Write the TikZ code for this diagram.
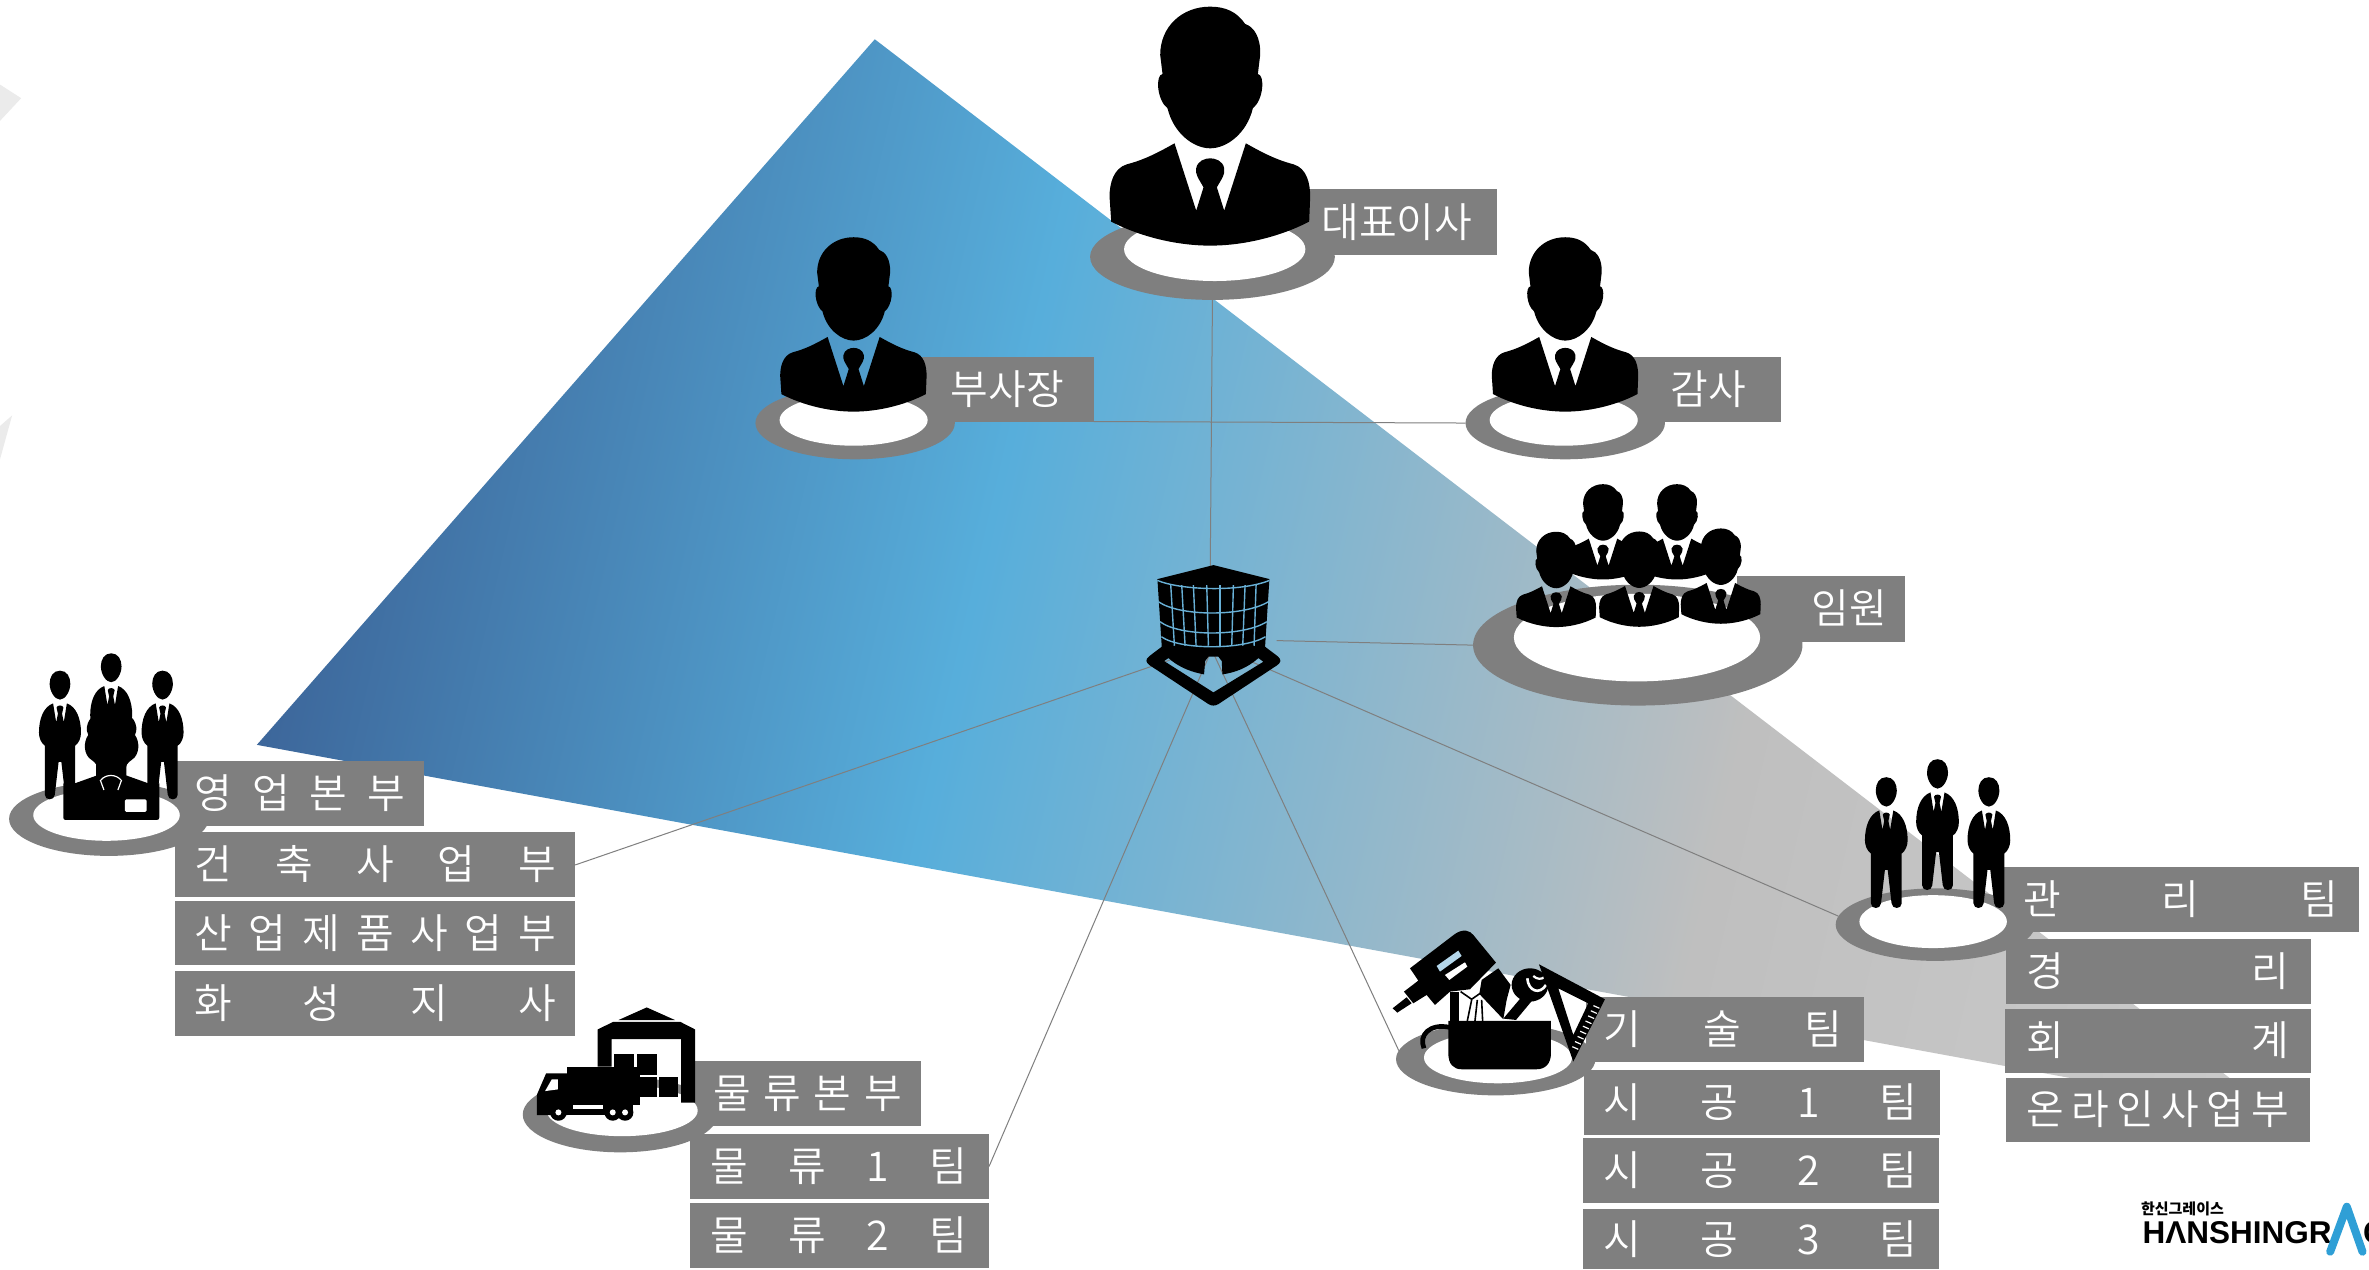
\documentclass[tikz,border=0pt]{standalone}
\usepackage{fontspec}
\usetikzlibrary{shapes.geometric,calc}
\IfFontExistsTF{Noto Sans CJK KR DemiLight}{\newfontfamily\krfont{Noto Sans CJK KR DemiLight}}{\newfontfamily\krfont{Noto Sans CJK KR Light}}
\newfontfamily\krlogo{Noto Sans CJK KR}
\newfontfamily\logofont{Liberation Sans}
\definecolor{boxgray}{HTML}{7F7F7F}
\definecolor{faint}{HTML}{EBEBEB}
\definecolor{cA}{HTML}{3D679B}
\definecolor{cB}{HTML}{57AEDB}
\definecolor{cC}{HTML}{BFBFBF}
\definecolor{cD}{HTML}{CACACA}
\definecolor{bldbg}{HTML}{68B0D6}
\definecolor{logoblue}{HTML}{2F9FD6}
\pgfdeclarehorizontalshading{trishade}{100bp}{color(0bp)=(cA); color(34.3bp)=(cA); color(45.3bp)=(cB); color(58.3bp)=(cC); color(67.5bp)=(cD); color(100bp)=(cD)}
\tikzset{
  lab/.style={fill=boxgray,text=white,inner sep=0pt,outer sep=0pt,anchor=north west,align=left,
    font=\krfont\fontsize{41pt}{44pt}\selectfont,text height=34pt,text depth=4pt},
  ringo/.style={ellipse,fill=boxgray,inner sep=0pt,outer sep=0pt},
  ringi/.style={ellipse,fill=white,inner sep=0pt,outer sep=0pt},
  conn/.style={draw=boxgray,line width=1pt},
  bust/.pic={
    \fill[black] (0,20) .. controls (-85,20) and (-150,80) .. (-150,165) -- (-143,222)
      .. controls (-165,225) and (-160,300) .. (-128,325)
      .. controls (-110,400) and (-50,445) .. (0,445)
      .. controls (50,445) and (110,400) .. (128,325)
      .. controls (160,300) and (165,225) .. (143,222) -- (150,165)
      .. controls (152,110) and (130,80) .. (105,72)
      .. controls (80,35) and (45,20) .. (0,20) -- cycle;
    \fill[black] (-107,430) -- (-42,632) -- (-20,562)
      .. controls (-35,535) and (-45,525) .. (-42,505)
      .. controls (-38,482) and (-15,475) .. (0,475)
      .. controls (15,475) and (38,482) .. (42,505)
      .. controls (45,525) and (35,535) .. (20,562) -- (42,632) -- (107,430)
      .. controls (160,460) and (200,480) .. (250,493)
      .. controls (290,505) and (300,550) .. (300,590) -- (297,665)
      .. controls (200,715) and (90,737) .. (0,737)
      .. controls (-90,737) and (-200,715) .. (-297,665) -- (-302,590)
      .. controls (-302,550) and (-290,505) .. (-250,493)
      .. controls (-200,480) and (-160,460) .. (-107,430) -- cycle;
  },
  standing/.pic={
    \fill[black] (0,0) .. controls (-20,0) and (-30,18) .. (-30,38)
      .. controls (-30,60) and (-15,84) .. (0,84)
      .. controls (15,84) and (30,60) .. (30,38)
      .. controls (30,18) and (20,0) .. (0,0) -- cycle;
    \fill[black] (-20,95) -- (-11,150) -- (-6,125) -- (-10,107)
      .. controls (-8,99) and (8,99) .. (10,107) -- (6,125) -- (11,150) -- (20,95)
      .. controls (48,105) and (61,140) .. (61,180)
      .. controls (61,195) and (55,210) .. (44,218) -- (44,360)
      .. controls (44,378) and (16,378) .. (15,360) -- (4,265) -- (-4,265) -- (-15,360)
      .. controls (-16,378) and (-44,378) .. (-44,360) -- (-44,218)
      .. controls (-55,210) and (-61,195) .. (-61,180)
      .. controls (-61,140) and (-48,105) .. (-20,95) -- cycle;
  },
}
% name x1 y1 x2 y2 textleft textwidth text
\newcommand\lab[8]{%
  \pgfmathsetlengthmacro\bw{(#4-#2)*1.5108}%
  \pgfmathsetlengthmacro\bh{(#5-#3)*1.5108}%
  \pgfmathsetlengthmacro\pd{(#6-#2)*1.5108}%
  \pgfmathsetlengthmacro\tw{#7*1.5108}%
  \node[lab,text width=\bw,minimum height=\bh] (#1) at (#2,#3) {\hspace*{\pd}\makebox[\tw][s]{#8}};}
% name cx cy rx ry icx icy irx iry
\newcommand\ringpair[9]{%
  \pgfmathsetlengthmacro\ow{2*#4*1.5108}%
  \pgfmathsetlengthmacro\oh{2*#5*1.5108}%
  \pgfmathsetlengthmacro\iw{2*#8*1.5108}%
  \pgfmathsetlengthmacro\ih{2*#9*1.5108}%
  \node[ringo,minimum width=\ow,minimum height=\oh] (#1o) at (#2,#3) {};
  \node[ringi,minimum width=\iw,minimum height=\ih] (#1i) at (#6,#7) {};}
\newcommand\gp{\hspace{\fill}}
\begin{document}
\begin{tikzpicture}[x=1.5108pt,y=-1.5108pt]
\useasboundingbox (0,0) rectangle (1568,840);
\fill[white] (0,0) rectangle (1568,840);
\clip (0,0) rectangle (1568,840);
% faint shapes at the left edge
\fill[faint] (0,56) -- (14,65) -- (0,80) -- cycle;
\fill[faint] (0,282) -- (8,275) -- (0,304) -- cycle;
% big triangle
\begin{scope}
  \clip (579,26) -- (170,493) -- (1509,739) -- cycle;
  \shade[shading=trishade,shading angle=-13] (-160,-620) rectangle (1840,1380);
\end{scope}
% label boxes
\lab{ceobox}{860}{125}{991}{169}{874.7}{108.6}{대표이사}
\lab{vpbox}{610}{236}{724}{279}{629.3}{81.5}{부사장}
\lab{audbox}{1080}{236}{1179}{279}{1105.8}{54.3}{감사}
\lab{execbox}{1150}{381}{1260.6}{425}{1199.3}{54.3}{임원}
\lab{sales}{115}{503.5}{280.7}{546.5}{129}{139}{영\gp 업\gp 본\gp 부}
\lab{arch}{115.8}{551}{380.7}{594}{129}{239}{건\gp 축\gp 사\gp 업\gp 부}
\lab{indu}{115.8}{596.4}{380.7}{639}{129}{239}{산\gp 업\gp 제\gp 품\gp 사\gp 업\gp 부}
\lab{hwa}{115.8}{642.5}{380.7}{685.5}{129}{239}{화\gp 성\gp 지\gp 사}
\lab{logihq}{459}{702.3}{609.6}{745}{472}{125}{물\gp 류\gp 본\gp 부}
\lab{logia}{456.7}{750.6}{654.6}{793.6}{470}{170}{물\gp 류\gp 1\gp 팀}
\lab{logib}{456.7}{796.3}{654.6}{839.3}{470}{170}{물\gp 류\gp 2\gp 팀}
\lab{tech}{1050}{659.9}{1233.7}{702.7}{1061}{158}{기\gp 술\gp 팀}
\lab{cona}{1048.6}{708.2}{1284}{751.2}{1061}{208}{시\gp 공\gp 1\gp 팀}
\lab{conb}{1047.9}{753.2}{1283.2}{796}{1061}{208}{시\gp 공\gp 2\gp 팀}
\lab{conc}{1047.9}{800.2}{1283.2}{840}{1061}{208}{시\gp 공\gp 3\gp 팀}
\lab{mgmt}{1320}{573.9}{1561.2}{616.8}{1339}{208.5}{관\gp 리\gp 팀}
\lab{acct}{1327.8}{621.7}{1529.7}{664.7}{1341}{174.5}{경\gp 리}
\lab{fina}{1327}{667.6}{1529.7}{710.3}{1341}{174.5}{회\gp 계}
\lab{online}{1327.8}{713.2}{1528.8}{756.1}{1341}{174.5}{온\gp 라\gp 인\gp 사\gp 업\gp 부}
% rings
\ringpair{ceo}{802.5}{170}{81}{28.5}{804}{165}{60}{21}
\ringpair{vp}{566}{280}{66}{24}{565}{278}{49}{17}
\ringpair{aud}{1036}{280}{66}{24}{1035}{278}{49}{17}
\ringpair{exec}{1084}{427}{109}{40}{1083.5}{422}{81.5}{29}
\ringpair{salesr}{72}{542}{66}{24.5}{70.5}{539.5}{48.5}{17}
\ringpair{logir}{410.5}{737.7}{64.5}{25}{411.8}{735}{50}{17}
\ringpair{techr}{990}{701}{66}{24}{991.5}{700}{49}{17}
\ringpair{mgmtr}{1281}{612}{66}{24}{1279.5}{610}{48.8}{17.5}
% connectors
\coordinate (bld) at (802,430);
\coordinate (bldm) at (803,427);
\coordinate (bldr) at (845,424);
\coordinate (bldtop) at (801,380);
\draw[conn] (ceoo.south) -- (bldtop);
\draw[conn] (vpbox.south east) -- (audo.west);
\draw[conn] (bldr) -- (execo.west);
\draw[conn] (bldm) -- (mgmtro.175);
\draw[conn] (bld) -- (techro.175);
\draw[conn] (bld) -- (logia.east);
\draw[conn] (bldm) -- (arch.east);
% executives
\pic[scale=.2206] at (801,0) {bust};
\pic[scale=.161] at (565,153.8) {bust};
\pic[scale=.161] at (1036,153.8) {bust};
\pic[scale=.088] at (1061,318.7) {bust};
\pic[scale=.088] at (1110,318.7) {bust};
\pic[scale=.088] at (1030,350.2) {bust};
\pic[scale=.088] at (1085,350) {bust};
\pic[scale=.088] at (1139,348) {bust};
% building
\begin{scope}[shift={(754.6,367.4)},scale=.2206]
  \fill[black,even odd rule] (220,30) -- (52,72) -- (65,275) -- (28,303)
      .. controls (14,314) and (18,322) .. (28,330) -- (205,447)
      .. controls (214,453) and (226,453) .. (235,447) -- (412,330)
      .. controls (422,322) and (426,314) .. (412,303) -- (375,275) -- (388,72) -- cycle
    (72,318) -- (85,309) .. controls (120,340) and (160,352) .. (192,358) -- (195,318) -- (205,305) -- (235,305) -- (245,318) -- (247,358)
      .. controls (285,352) and (320,340) .. (355,309) -- (370,320) -- (220,412) -- cycle;
  \begin{scope}[draw=bldbg,line width=1.4pt]
    \draw (52,76) .. controls (120,105) and (300,112) .. (388,76);
    \draw (55,140) .. controls (120,185) and (310,185) .. (385,140);
    \draw (60,200) .. controls (120,245) and (310,245) .. (380,200);
    \draw (64,245) .. controls (120,285) and (310,285) .. (376,245);
    \foreach \xa/\xb in {92/103,125/135,160/168,200/205,240/240,280/275,315/308,348/342}
      \draw (\xa,90) -- (\xb,272);
  \end{scope}
\end{scope}
% management trio
\pic[scale=.2318] at (1248.5,514.4) {standing};
\pic[scale=.2318] at (1282.4,502.5) {standing};
\pic[scale=.2318] at (1316.4,514.4) {standing};
% sales trio and desk
\pic[scale=.228] at (39.7,443.9) {standing};
\pic[scale=.228] at (73.6,432.4) {standing};
\pic[scale=.228] at (107.6,443.9) {standing};
\begin{scope}[shift={(13.2,423.6)},scale=.2206]
  \fill[black] (212,235) .. controls (198,255) and (198,270) .. (205,285)
    .. controls (190,305) and (190,345) .. (215,360)
    .. controls (225,368) and (235,372) .. (235,405) -- (165,430) -- (130,430) -- (130,533)
    .. controls (130,538) and (133,540) .. (138,540) -- (410,540)
    .. controls (415,540) and (418,538) .. (418,533) -- (418,430) -- (385,430) -- (315,405)
    .. controls (315,372) and (325,368) .. (335,360)
    .. controls (360,345) and (360,305) .. (345,285)
    .. controls (352,270) and (352,255) .. (338,235) -- cycle;
  \fill[white,rounded corners=1.5pt] (315,478) rectangle (380,516);
  \draw[white,line width=1.2pt] (241,420) -- (252,450);
  \draw[white,line width=1.2pt] (305,420) -- (294,450);
  \draw[white,line width=1.2pt] (243,420) .. controls (258,402) and (288,402) .. (303,420);
\end{scope}
% warehouse and truck
\begin{scope}[shift={(331,648.7)},scale=.2206]
  \fill[black] (355,120) -- (440,82) -- (525,120) -- cycle;
  \fill[black] (293,148) -- (340,125) -- (540,125) -- (585,148) -- (585,368) -- (543,368) -- (543,177) -- (335,177) -- (335,260) -- (293,260) -- cycle;
  \fill[black] (343,222) rectangle (403,265);
  \fill[black] (410,222) rectangle (470,285);
  \fill[black] (420,290) rectangle (470,350);
  \fill[black] (478,290) rectangle (535,350);
  \fill[black] (202,260) rectangle (420,375);
  \fill[black] (110,345) -- (138,280) -- (202,280) -- (202,405) -- (110,405) -- cycle;
  \fill[black] (110,372) rectangle (400,405);
  \fill[white] (135,333) -- (155,298) -- (173,298) -- (173,328) -- cycle;
  \fill[white] (220,375) rectangle (310,387);
  \foreach \wx in {175,338,375} {
    \fill[black] (\wx,397) circle (25);
    \fill[white] (\wx,397) circle (9);
  }
\end{scope}
% tools
\begin{scope}[shift={(920,608.9)},scale=.2206]
  \draw[black,line width=4.7pt] (178,322) .. controls (120,310) and (85,345) .. (102,385);
  % contents of the box
  \fill[black] (180,303) -- (180,215) -- (208,215) -- (208,303) -- cycle;
  \draw[black,line width=1.6pt] (232,303) -- (245,240);
  \draw[black,line width=1.6pt] (255,303) -- (262,240);
  \draw[black,line width=1.6pt] (278,303) -- (275,240);
  \draw[black,line width=1.6pt] (212,215) -- (245,238) -- (278,215);
  \fill[black] (275,180) -- (325,145) -- (362,195) -- (350,240) -- (340,298) -- (268,222) -- cycle;
  % drill
  \fill[black] (60,145) -- (195,42) .. controls (220,25) and (240,32) .. (250,45) -- (318,128) -- (240,208) -- (180,215) -- (135,255) -- (110,225) -- (70,250) -- (42,215) -- (85,182) -- cycle;
  \fill[black] (8,265) -- (50,232) -- (65,250) -- (22,278) -- cycle;
  \fill[bldbg!50!white] (140,138) -- (205,92) -- (215,108) -- (150,155) -- cycle;
  \fill[white] (165,165) -- (225,127) -- (232,140) -- (178,180) -- cycle;
  % wrench
  \fill[black] (420,195) ellipse (55 and 50);
  \fill[black] (400,225) -- (428,240) -- (378,300) -- (340,296) -- cycle;
  \draw[white,line width=2.6pt] (412,175) .. controls (415,215) and (450,225) .. (468,195);
  \draw[white,line width=2.2pt] (430,168) .. controls (440,178) and (455,180) .. (465,170);
  % box
  \fill[black] (175,303) -- (483,303) -- (483,400) .. controls (483,432) and (465,448) .. (440,448) -- (215,448) .. controls (190,448) and (175,432) .. (175,400) -- cycle;
  % set square
  \fill[black,even odd rule] (447,133) -- (645,238) -- (550,425) -- cycle (505,205) -- (595,250) -- (550,345) -- cycle;
  \foreach \t in {.05,.16,.27,.38,.49,.6,.71,.82,.93}
    \draw[white,line width=1.2pt] ($(632,258)!\t!(560,398)$) -- ++(-18,-8);
\end{scope}
% logo
\node[anchor=base west,inner sep=0pt,font=\krlogo\bfseries\fontsize{15pt}{16pt}\selectfont] (logok) at (1417,804) {한신그레이스};
\node[anchor=base west,inner sep=0pt,font=\logofont\bfseries\fontsize{31.5pt}{33pt}\selectfont] (logoa) at (1418,823) {HΛNSHINGR};
\node[anchor=base west,inner sep=0pt,font=\logofont\bfseries\fontsize{31.5pt}{33pt}\selectfont] (logoc) at (1564,823) {C};
\coordinate (lgA) at (1542.3,828.5);
\coordinate (lgB) at (1553.3,798.7);
\coordinate (lgC) at (1563.7,828.5);
\draw[logoblue,line width=8pt,line cap=round,line join=round] (lgA) -- (lgB) -- (lgC);
\end{tikzpicture}
\end{document}
